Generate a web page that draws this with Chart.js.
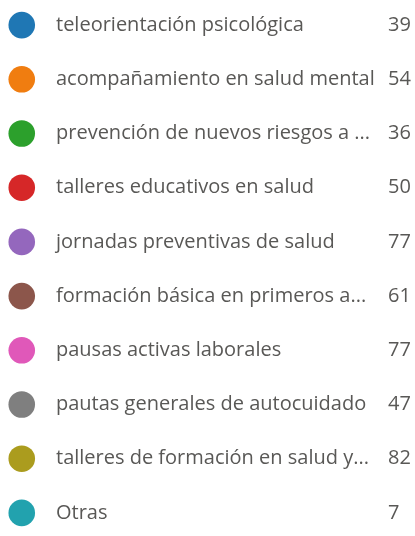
<!DOCTYPE html>
<html>
<head>
<meta charset="utf-8">
<script src="https://cdn.jsdelivr.net/npm/chart.js@4"></script>
<style>
  html, body { margin: 0; padding: 0; background: #fff; }
  #wrap { width: 415px; height: 536px; overflow: hidden; position: relative; }
  #legend-chart { position: absolute; left: 0; top: -2px; }
</style>
</head>
<body>
<div id="wrap"><canvas id="legend-chart" width="415" height="542"></canvas></div>
<script>
const categories = [
  "teleorientación psicológica",
  "acompañamiento en salud mental",
  "prevención de nuevos riesgos a ...",
  "talleres educativos en salud",
  "jornadas preventivas de salud",
  "formación básica en primeros a...",
  "pausas activas laborales",
  "pautas generales de autocuidado",
  "talleres de formación en salud y...",
  "Otras"
];
const counts = [39, 54, 36, 50, 77, 61, 77, 47, 82, 7];
const colors = ["#1f77b4", "#f07d10", "#2ca02c", "#d62728", "#9467bd",
                "#8c564b", "#e058b9", "#7f7f7f", "#ab9c1e", "#22a2ae"];

const font = { family: "'Open Sans', 'Noto Sans', sans-serif", size: 20 };
const textColor = '#595856';

// fixed widths, no extra padding from the tick labels
function fixAxis(width) {
  return s => {
    s.width = width;
    s.paddingTop = 0; s.paddingBottom = 0;
    s.paddingLeft = 0; s.paddingRight = 0;
  };
}

const ctx = document.getElementById('legend-chart');
new Chart(ctx, {
  type: 'scatter',
  data: {
    labels: categories,
    datasets: [{
      data: categories.map(c => ({ x: 0, y: c })),
      backgroundColor: colors,
      borderWidth: 0,
      pointRadius: 13.3,
      pointHoverRadius: 13.3,
      clip: false
    }]
  },
  options: {
    responsive: false,
    animation: false,
    layout: { padding: 0, autoPadding: false },
    plugins: { legend: { display: false }, tooltip: { enabled: false } },
    scales: {
      x: { type: 'linear', display: false, min: -1, max: 1 },
      y: {
        type: 'category', position: 'right', offset: true, weight: 1,
        grid: { display: false, drawTicks: false }, border: { display: false },
        ticks: { autoSkip: false, padding: 12.5, color: textColor, font: font },
        afterFit: fixAxis(344.5)
      },
      y2: {
        type: 'category', position: 'right', offset: true, weight: 2,
        labels: categories,
        grid: { display: false, drawTicks: false }, border: { display: false },
        ticks: { autoSkip: false, padding: 0, color: textColor, font: font,
                 callback: (v, i) => String(counts[i]) },
        afterFit: fixAxis(27)
      }
    }
  }
});
</script>
</body>
</html>
